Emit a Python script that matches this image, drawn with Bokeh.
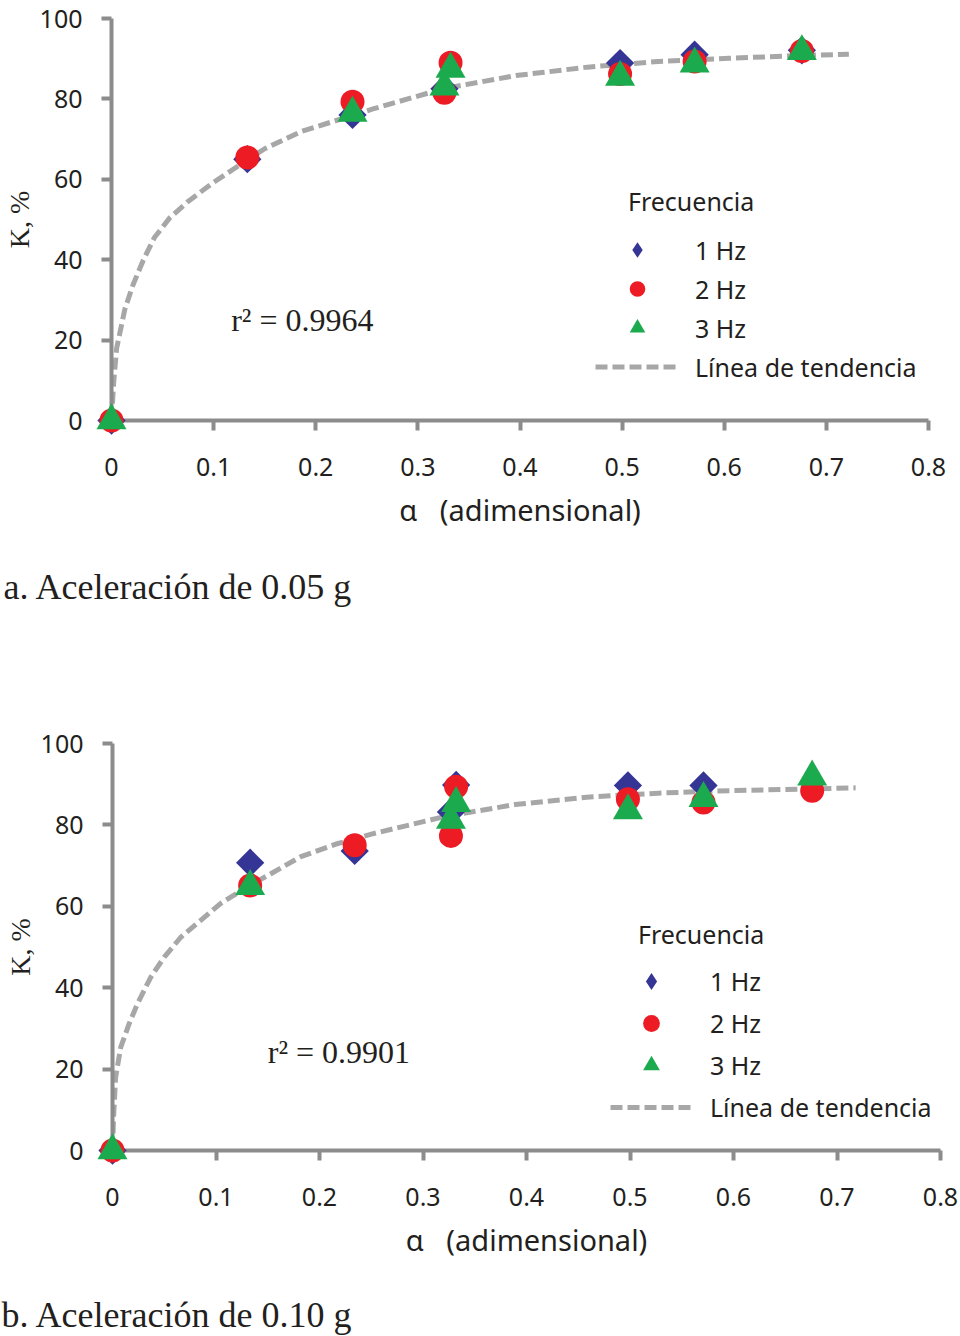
import math
from bokeh.plotting import figure
from bokeh.models import Legend, LegendItem, Label, Title, FixedTicker
from bokeh.layouts import column, row
from bokeh.embed import file_html
from bokeh.resources import INLINE

# ---------------- data: chart a (0.05 g) ----------------
a_alpha_1hz = [0.0, 0.133, 0.236, 0.326, 0.498, 0.571, 0.676]
a_k_1hz = [0.0, 65.0, 76.0, 82.5, 88.9, 91.0, 92.1]
a_alpha_2hz = [0.0, 0.133, 0.236, 0.326, 0.332, 0.498, 0.571, 0.676]
a_k_2hz = [0.0, 65.4, 79.3, 81.5, 89.0, 86.2, 89.3, 91.9]
a_alpha_3hz = [0.0, 0.236, 0.326, 0.332, 0.498, 0.571, 0.676]
a_k_3hz = [0.0, 76.5, 83.0, 87.4, 85.4, 88.7, 91.8]
a_trend_alpha = [0.0, 0.002, 0.005, 0.013, 0.021, 0.031, 0.042, 0.057, 0.075, 0.098,
                 0.121, 0.150, 0.186, 0.256, 0.326, 0.396, 0.466, 0.535, 0.605, 0.675, 0.722]
a_trend_k = [0.0, 9.0, 17.9, 27.6, 33.7, 39.8, 45.5, 50.4, 54.5, 58.9,
             62.8, 67.6, 71.9, 77.5, 82.6, 85.8, 87.9, 89.3, 90.1, 90.8, 91.1]
a_r2 = "r² = 0.9964"
a_caption = "a. Aceleración de 0.05 g"

# ---------------- data: chart b (0.10 g) ----------------
b_alpha_1hz = [0.0, 0.133, 0.234, 0.327, 0.332, 0.498, 0.571]
b_k_1hz = [0.0, 70.7, 73.6, 83.2, 89.8, 89.7, 89.7]
b_alpha_2hz = [0.0, 0.133, 0.234, 0.327, 0.332, 0.498, 0.571, 0.676]
b_k_2hz = [0.0, 65.1, 75.0, 77.3, 89.4, 86.3, 85.5, 88.4]
b_alpha_3hz = [0.0, 0.133, 0.327, 0.332, 0.498, 0.571, 0.676]
b_k_3hz = [0.0, 64.9, 81.2, 85.3, 83.5, 86.5, 91.8]
b_trend_alpha = [0.0, 0.001, 0.003, 0.008, 0.016, 0.024, 0.037, 0.050, 0.066, 0.085,
                 0.104, 0.127, 0.153, 0.182, 0.216, 0.251, 0.320, 0.389, 0.458, 0.527,
                 0.596, 0.665, 0.718]
b_trend_k = [0.0, 8.0, 18.0, 25.4, 31.1, 36.0, 42.6, 47.5, 52.4, 56.5,
             60.6, 64.3, 68.0, 72.2, 75.3, 77.8, 82.0, 85.0, 86.8, 87.8,
             88.4, 88.8, 89.1]
b_r2 = "r² = 0.9901"
b_caption = "b. Aceleración de 0.10 g"

# ---------------- shared axis / legend texts ----------------
x_ticks = [0, 0.1, 0.2, 0.3, 0.4, 0.5, 0.6, 0.7, 0.8]
x_tick_labels = ["0", "0.1", "0.2", "0.3", "0.4", "0.5", "0.6", "0.7", "0.8"]
y_ticks = [0, 20, 40, 60, 80, 100]
y_tick_labels = ["0", "20", "40", "60", "80", "100"]
series_labels = ["1 Hz", "2 Hz", "3 Hz"]
trend_label = "Línea de tendencia"
legend_title = "Frecuencia"
x_title = "α\u00a0\u00a0\u00a0(adimensional)"
y_title = "K, %"

BLUE = "#353596"
RED = "#ED1C24"
GREEN = "#1CAA4E"
TREND = "#A7A7A7"
AXIS = "#8C8C8C"
INK = "#231F20"
SANS = "Noto Sans"
SERIF = "Liberation Serif"


def build(d, lay):
    p = figure(width=lay["width"], height=lay["height"],
               x_range=(0, 0.8), y_range=(0, 100),
               output_backend="svg", toolbar_location=None,
               min_border_left=lay["left"], min_border_right=lay["right"],
               min_border_top=lay["top"], min_border_bottom=lay["bottom"])
    p.outline_line_color = None
    p.xgrid.grid_line_color = None
    p.ygrid.grid_line_color = None
    p.background_fill_color = "white"
    p.border_fill_color = "white"

    trend = p.line(d["trend_alpha"], d["trend_k"], line_color=TREND, line_width=5,
                   line_dash="12 5")
    # small diamonds hidden beneath the big ones; they give the legend its diamond
    r1_key = p.scatter(d["alpha_1hz"], d["k_1hz"], marker="diamond", size=8,
                       fill_color=BLUE, line_color=None)
    r1 = p.scatter(d["alpha_1hz"], d["k_1hz"], marker="square", angle=math.pi / 4,
                   size=20, fill_color=BLUE, line_color=None)
    r2 = p.scatter(d["alpha_2hz"], d["k_2hz"], marker="circle", size=24,
                   fill_color=RED, line_color=None)
    r3 = p.scatter(d["alpha_3hz"], d["k_3hz"], marker="triangle", size=30,
                   fill_color=GREEN, line_color=None)
    for r in (r1, r2, r3):
        r.level = "annotation"

    xa = p.xaxis[0]
    ya = p.yaxis[0]
    for ax in (xa, ya):
        ax.axis_line_color = AXIS
        ax.axis_line_width = 4
        ax.major_tick_line_color = AXIS
        ax.major_tick_line_width = 4
        ax.major_tick_in = 0
        ax.major_tick_out = 10
        ax.minor_tick_line_color = None
        ax.major_label_text_font = SANS
        ax.major_label_text_font_size = "25px"
        ax.major_label_text_color = INK
        ax.axis_label_text_color = INK
        ax.axis_label_text_font_style = "normal"

    xa.ticker = FixedTicker(ticks=x_ticks)
    xa.major_label_overrides = dict(zip(x_ticks, x_tick_labels))
    xa.major_label_standoff = 27
    xa.axis_label = x_title
    xa.axis_label_text_font = SANS
    xa.axis_label_text_font_size = "29px"
    xa.axis_label_standoff = 11

    ya.ticker = FixedTicker(ticks=y_ticks)
    ya.major_label_overrides = dict(zip(y_ticks, y_tick_labels))
    ya.major_label_standoff = 19
    ya.axis_label = y_title
    ya.axis_label_text_font = SERIF
    ya.axis_label_text_font_size = "28px"
    ya.axis_label_standoff = 2

    legend = Legend(items=[LegendItem(label=series_labels[0], renderers=[r1_key]),
                           LegendItem(label=series_labels[1], renderers=[r2]),
                           LegendItem(label=series_labels[2], renderers=[r3]),
                           LegendItem(label=trend_label, renderers=[trend])],
                    location=lay["legend_loc"], glyph_width=lay["glyph_w"],
                    glyph_height=lay["glyph_h"], spacing=0,
                    label_standoff=lay["label_standoff"],
                    padding=0, margin=0, border_line_color=None, background_fill_alpha=0,
                    label_text_font=SANS, label_text_font_size="25px", label_text_color=INK)
    p.add_layout(legend)

    p.add_layout(Label(x=lay["freq_xy"][0], y=lay["freq_xy"][1], text=legend_title,
                       text_font=SANS, text_font_size="25px", text_baseline="middle",
                       text_color=INK))
    p.add_layout(Label(x=lay["r2_xy"][0], y=lay["r2_xy"][1], text=d["r2"],
                       text_font=SERIF, text_font_size="32px", text_color=INK))

    if lay["gap"] > 0:
        # blank spacer between the axis title and the caption
        p.add_layout(Title(text=" ", text_font_size="1px", standoff=lay["gap"]), "below")
    cap = Title(text=d["caption"], align="left", offset=lay["cap_offset"],
                text_font=SERIF, text_font_size="36px", text_font_style="normal",
                text_color=INK, standoff=lay["cap_standoff"])
    p.add_layout(cap, "below")
    return p


data_a = dict(alpha_1hz=a_alpha_1hz, k_1hz=a_k_1hz, alpha_2hz=a_alpha_2hz, k_2hz=a_k_2hz,
              alpha_3hz=a_alpha_3hz, k_3hz=a_k_3hz, trend_alpha=a_trend_alpha,
              trend_k=a_trend_k, r2=a_r2, caption=a_caption)
data_b = dict(alpha_1hz=b_alpha_1hz, k_1hz=b_k_1hz, alpha_2hz=b_alpha_2hz, k_2hz=b_k_2hz,
              alpha_3hz=b_alpha_3hz, k_3hz=b_k_3hz, trend_alpha=b_trend_alpha,
              trend_k=b_trend_k, r2=b_r2, caption=b_caption)

lay_a = dict(width=960, height=725, left=109, right=32, top=18, bottom=305,
             legend_loc=(484, 34), glyph_w=84, glyph_h=39, label_standoff=16,
             freq_xy=(0.5057, 54.7), r2_xy=(0.1172, 20.6),
             cap_offset=-108, cap_standoff=67, gap=0)
lay_b = dict(width=960, height=610, left=112, right=20, top=18, bottom=185,
             legend_loc=(498, 22), glyph_w=82, glyph_h=42, label_standoff=18,
             freq_xy=(0.5077, 53.3), r2_xy=(0.150, 19.7),
             cap_offset=-111, cap_standoff=0, gap=28)

p1 = build(data_a, lay_a)
p2 = build(data_b, lay_b)
layout = column(p1, row(p2), spacing=0)

open("out.html", "w").write(file_html(layout, INLINE))
